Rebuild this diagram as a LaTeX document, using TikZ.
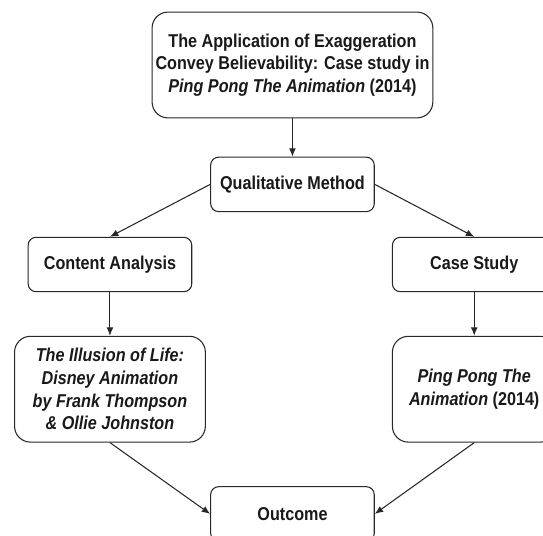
\documentclass[tikz,border=0pt]{standalone}
\usepackage{fontspec}
\setmainfont{Liberation Sans}[FakeStretch=0.87]
\usepackage{tikz}
\usetikzlibrary{shapes.geometric, arrows.meta}
\definecolor{box_line}{RGB}{40, 40, 40}
\definecolor{box_text}{RGB}{25, 25, 25}
\tikzstyle{heading} = [rectangle, rounded corners=0.42cm, minimum width=7.43cm, minimum height=2.8cm, inner sep=2pt, text centered, draw=box_line, line width=0.8pt, text=box_text, font=\fontsize{14}{17}\selectfont\bfseries]
\tikzstyle{process} = [rectangle, rounded corners=0.21cm, minimum width=4.33cm, minimum height=1.44cm, inner sep=2pt, text centered, draw=box_line, line width=0.8pt, text=box_text, font=\fontsize{14}{17}\selectfont\bfseries]
\tikzstyle{source} = [rectangle, rounded corners=0.42cm, minimum height=2.8cm, inner sep=2pt, text centered, draw=box_line, line width=0.8pt, text=box_text, font=\fontsize{14}{17}\selectfont\bfseries]
\tikzstyle{arrow} = [line width=0.8pt, draw=box_line, -{Latex[length=2.2mm, width=1.8mm]}]

\begin{document}
\begin{tikzpicture}[node distance=3.3cm, every text node part/.style={align=center}]
        \useasboundingbox (-7.74,1.72) rectangle (6.63,-12.46);
        \clip (-7.74,1.72) rectangle (6.63,-12.46);

        \node (study) [heading] {The Application of Exaggeration \\ Convey Believability: Case study in \\ \textit{Ping Pong The Animation} (2014)};
        \node (method) [process, below of=study, yshift=0.14cm] {Qualitative Method};

        \node (content) [process, below of=method, xshift=-4.83cm, yshift=1.18cm] {Content Analysis};
        \node (casestudy) [process, below of=method, xshift=4.81cm, yshift=1.18cm] {Case Study};

        \node (illusion) [source, below of=content, minimum width=5.05cm] {\textit{The Illusion of Life:} \\ \textit{Disney Animation} \\ \textit{by Frank Thompson} \\ \textit{\& Ollie Johnston}};
        \node (pingpong) [source, below of=casestudy, minimum width=4.33cm] {\textit{Ping Pong The} \\ \textit{Animation} (2014)};

        \node (outcome) [process, below of=illusion, xshift=4.83cm] {Outcome};

        \draw [arrow] (study) -- (method);
        \draw [arrow] (method.west) -- (content.north);
        \draw [arrow] (method.east) -- (casestudy.north);
        \draw [arrow] (content) -- (illusion);
        \draw [arrow] (casestudy) -- (pingpong);
        \draw [arrow] (illusion.south) -- (outcome.west);
        \draw [arrow] (pingpong.south) -- (outcome.east);
    \end{tikzpicture}
\end{document}
